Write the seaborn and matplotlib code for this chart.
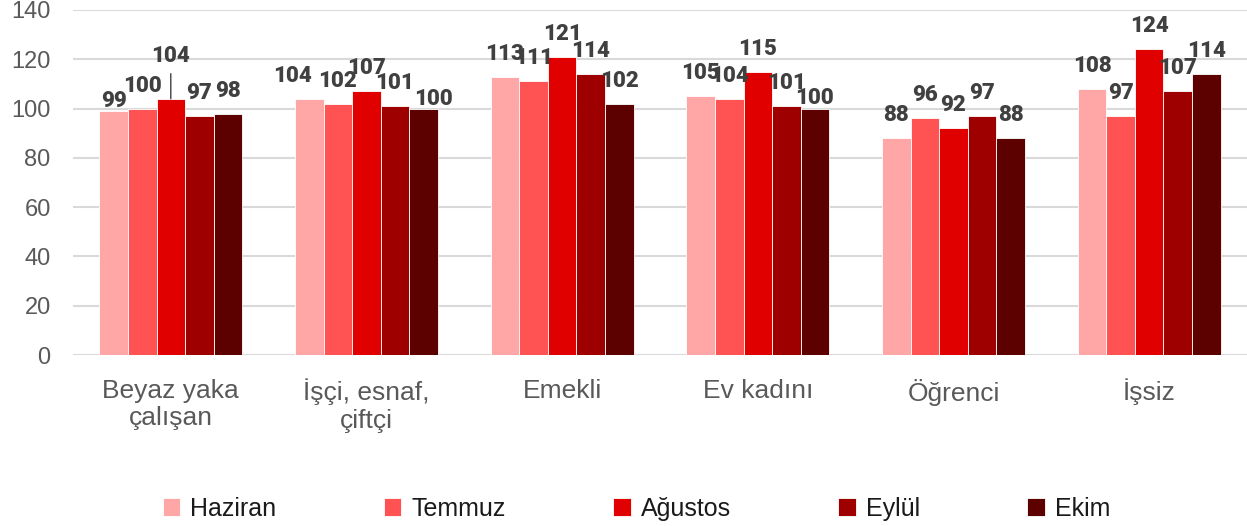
import matplotlib.pyplot as plt
import pandas as pd
import seaborn as sns

# Values
groups = ["Beyaz yaka\nçalışan", "İşçi, esnaf,\nçiftçi", "Emekli", "Ev kadını", "Öğrenci", "İşsiz"]
months = ["Haziran", "Temmuz", "Ağustos", "Eylül", "Ekim"]
haziran = [99, 104, 113, 105, 88, 108]
temmuz = [100, 102, 111, 104, 96, 97]
agustos = [104, 107, 121, 115, 92, 124]
eylul = [97, 101, 114, 101, 97, 107]
ekim = [98, 100, 102, 100, 88, 114]
yticks = [0, 20, 40, 60, 80, 100, 120, 140]

colors = ["#FFA6A6", "#FF5252", "#E00000", "#9E0000", "#5C0000"]

# label nudges in pixels (month index, group index) -> (dx, dy above bar top)
label_nudge = {
    (0, 0): (0, 10),
    (2, 0): (0, 43),
    (0, 1): (-17, 23),
    (4, 1): (10, 10),
    (4, 3): (0, 11),
}

series = [haziran, temmuz, agustos, eylul, ekim]
df = pd.DataFrame(
    [(g, m, v) for m, vals in zip(months, series) for g, v in zip(groups, vals)],
    columns=["group", "month", "value"],
)

fig = plt.figure(figsize=(12.47, 5.26), dpi=100)
ax = fig.add_axes([0.0585, 0.325, 0.9415, 0.656])

sns.barplot(
    data=df, x="group", y="value", hue="month",
    order=groups, hue_order=months, palette=colors, saturation=1,
    width=0.73, edgecolor="white", linewidth=0.6, legend=True, ax=ax,
)

ax.set_ylim(0, 140)
ax.set_yticks(yticks)
ax.set_xlim(-0.5, len(groups) - 0.5)
ax.grid(axis="y", color="#D9D9D9", linewidth=1.5)
ax.set_axisbelow(True)
for s in ax.spines.values():
    s.set_visible(False)
ax.tick_params(length=0)
ax.tick_params(axis="y", labelsize=17, labelcolor="#595959", pad=16)
ax.tick_params(axis="x", pad=17)
ax.set_xlabel("")
ax.set_ylabel("")
for t in ax.get_yticklabels():
    t.set_family(["Liberation Sans", "DejaVu Sans"])
ax.set_xticks(range(len(groups)))
ax.set_xticklabels(groups, fontsize=19, color="#595959",
                   family=["Liberation Sans", "DejaVu Sans"], linespacing=1.2)

for mi, cont in enumerate(ax.containers):
    for gi, bar in enumerate(cont):
        val = series[mi][gi]
        dx, dy = label_nudge.get((mi, gi), (0, 23))
        x = bar.get_x() + bar.get_width() / 2
        arrow = None
        if dy > 30:
            arrow = dict(arrowstyle="-", color="#404040", lw=1, shrinkA=3, shrinkB=0)
        ax.annotate(
            str(val), xy=(x, bar.get_height()), xytext=(dx, dy),
            textcoords="offset pixels", ha="center", va="center",
            fontsize=16, fontweight="black", color="#404040",
            family=["Roboto", "DejaVu Sans"], arrowprops=arrow,
        )

leg = ax.legend(
    loc="center", bbox_to_anchor=(0.48, -0.445), ncol=5, frameon=False,
    handlelength=0.7, handleheight=0.7, handletextpad=0.4, columnspacing=4.3,
    prop={"family": ["Liberation Sans", "DejaVu Sans"], "size": 18},
)
leg.set_title(None)
for t in leg.get_texts():
    t.set_color("#1A1A1A")

fig.savefig("out.png", dpi=100)
